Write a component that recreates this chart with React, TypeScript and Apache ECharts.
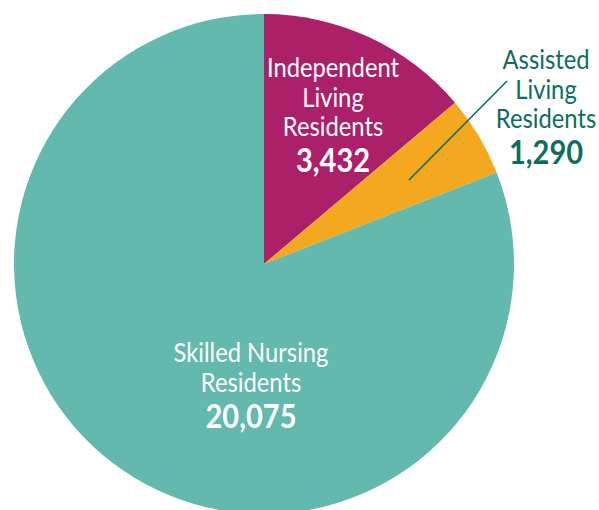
import React, { useEffect, useRef } from "react";
import * as echarts from "echarts";

const categories = ["Independent Living Residents", "Assisted Living Residents", "Skilled Nursing Residents"];
const labelLines = [["Independent", "Living", "Residents"], ["Assisted", "Living", "Residents"], ["Skilled Nursing", "Residents"]];
const values = [3432, 1290, 20075];
const colors = ["#AC1F69", "#F3A81F", "#63B9AE"];

const FONT = "Lato, 'Liberation Sans', sans-serif";

export default function App() {
  const ref = useRef<HTMLDivElement>(null);
  useEffect(() => {
    if (!ref.current) return;
    const chart = echarts.init(ref.current, null, { renderer: "svg" });
    const fmt = (v: number) => v.toLocaleString("en-US");
    const mk = (i: number, x: number, y: number, color: string) => ({
      type: "text",
      x,
      y,
      z: 100,
      scaleX: 0.88,
      style: {
        text: labelLines[i].map((l) => `{n|${l}}`).join("\n") + `\n{v|${fmt(values[i])}}`,
        align: "center",
        verticalAlign: "top",
        fill: color,
        rich: {
          n: { fontFamily: FONT, fontSize: 27, lineHeight: 29.5, fill: color },
          v: { fontFamily: FONT, fontSize: 33, fontWeight: "bold", lineHeight: 38, fill: color },
        },
      },
    });
    chart.setOption({
      animation: false,
      series: [
        {
          type: "pie",
          center: [264, 264],
          radius: 250,
          startAngle: 90,
          clockwise: true,
          label: { show: false },
          labelLine: { show: false },
          itemStyle: { borderWidth: 0 },
          data: categories.map((c, i) => ({ name: c, value: values[i], itemStyle: { color: colors[i] } })),
        },
      ],
      graphic: [
        mk(0, 333, 52, "#ffffff"),
        mk(1, 546, 44, "#0B6E5E"),
        mk(2, 251, 337, "#ffffff"),
        {
          type: "line",
          z: 100,
          shape: { x1: 409, y1: 180, x2: 507, y2: 81 },
          style: { stroke: "#0B6E5E", lineWidth: 1.6 },
        },
      ],
    });
    return () => chart.dispose();
  }, []);
  return <div ref={ref} style={{ position: "absolute", left: 0, top: 0, width: 599, height: 510 }} />;
}
